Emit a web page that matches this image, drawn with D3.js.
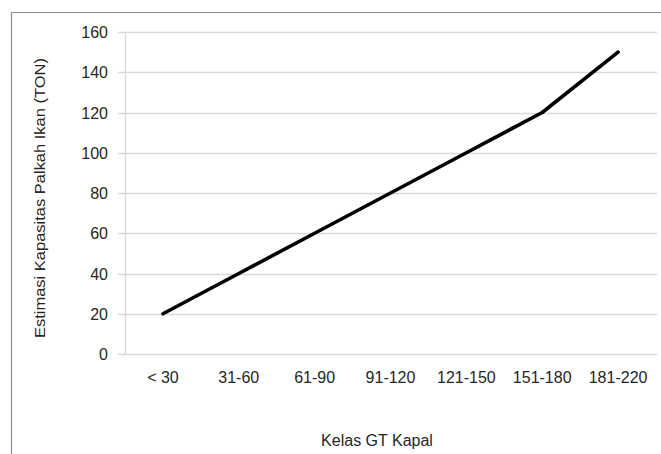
<!DOCTYPE html>
<html><head><meta charset="utf-8">
<script src="https://cdn.jsdelivr.net/npm/d3@7"></script>
<style>body{margin:0;background:#fff}svg{display:block}text{font-family:"Liberation Sans",Arial,sans-serif;fill:#262626}</style>
</head><body>
<svg id="c" width="661" height="454"></svg>
<script>
const categories = ["< 30","31-60","61-90","91-120","121-150","151-180","181-220"];
const values = [20,40,60,80,100,120,150];
const yTicks = [0,20,40,60,80,100,120,140,160];
const xTitle = "Kelas GT Kapal";
const yTitle = "Estimasi Kapasitas Palkah Ikan (TON)";

const svg = d3.select("#c");
const W = 661, H = 454;
const x = d3.scaleBand().domain(categories).range([125, 656]);
const y = d3.scaleLinear().domain([0,160]).range([354, 32]);

// frame
svg.append("path").attr("d", `M11.5,${H} V12.5 H${W}`).attr("fill","none").attr("stroke","#8c8c8c").attr("stroke-width",1.2);

// gridlines
svg.append("g").selectAll("line").data(yTicks).join("line")
  .attr("x1",118).attr("x2",657).attr("y1",d=>Math.round(y(d))+0.5).attr("y2",d=>Math.round(y(d))+0.5)
  .attr("stroke","#d9d9d9").attr("stroke-width",1.3);
// y axis line
svg.append("line").attr("x1",125.5).attr("x2",125.5).attr("y1",y(160)).attr("y2",y(0)).attr("stroke","#d9d9d9").attr("stroke-width",1.3);

// y tick labels
svg.append("g").selectAll("text").data(yTicks).join("text")
  .attr("x",108).attr("y",d=>y(d)+6).attr("text-anchor","end")
  .attr("font-size",16).text(d=>d);

// x tick labels
svg.append("g").selectAll("text").data(categories).join("text")
  .attr("x",d=>x(d)+x.bandwidth()/2).attr("y",383).attr("text-anchor","middle")
  .attr("font-size",16).text(d=>d);

// line
const line = d3.line().x((d,i)=>x(categories[i])+x.bandwidth()/2).y(d=>y(d));
svg.append("path").datum(values).attr("d",line).attr("fill","none").attr("stroke","#000")
  .attr("stroke-width",3.6).attr("stroke-linecap","round").attr("stroke-linejoin","round");

// titles
svg.append("text").attr("x",377).attr("y",446).attr("text-anchor","middle").attr("font-size",16).text(xTitle);
svg.append("text").attr("transform","translate(45,198) rotate(-90)").attr("text-anchor","middle")
  .attr("font-size",14).attr("textLength",280).attr("lengthAdjust","spacingAndGlyphs").text(yTitle);
</script>
</body></html>
